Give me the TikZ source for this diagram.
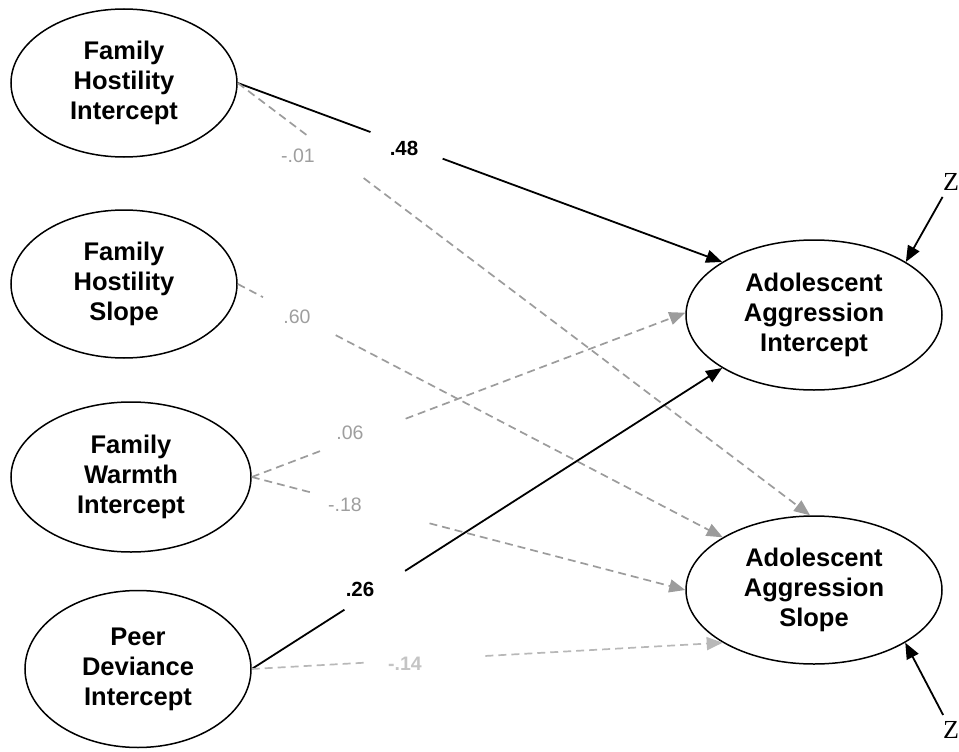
\documentclass[tikz,border=0pt]{standalone}
\usepackage{fontspec}
\setmainfont{Liberation Sans}
\newfontfamily\zfont{Liberation Serif}
\usetikzlibrary{arrows.meta,shapes.geometric,calc}
\definecolor{dgray}{HTML}{9C9C9C}
\definecolor{lgray}{HTML}{B8B8B8}
\definecolor{tgray}{HTML}{9E9E9E}
\definecolor{tlgray}{HTML}{C4C4C4}
\begin{document}
\begin{tikzpicture}[x=1pt,y=-1pt,
  lat/.style={ellipse,draw=black,line width=1.5pt,inner sep=0pt,align=center,
    font=\fontsize{25.5}{30}\selectfont\bfseries},
  tipk/.style={-{Triangle[length=16pt,width=13pt]}},
  solidarr/.style={draw=black,line width=1.8pt,tipk},
  dasharr/.style={draw=dgray,line width=1.7pt,dash pattern=on 8pt off 5pt,
    -{Triangle[length=16pt,width=13pt,color=dgray]}},
  ldasharr/.style={draw=lgray,line width=1.7pt,dash pattern=on 8pt off 5pt,
    -{Triangle[length=16pt,width=13pt,color=lgray]}},
  blbl/.style={font=\fontsize{20.5}{24}\selectfont\bfseries,text=black,inner sep=1pt},
  glbl/.style={font=\fontsize{19.5}{23}\selectfont,text=tgray,inner sep=1pt},
  lglbl/.style={font=\fontsize{19.5}{23}\selectfont\bfseries,text=tlgray,inner sep=1pt},
  zlbl/.style={font=\zfont\fontsize{26}{30}\selectfont,inner sep=1pt},
  zarr/.style={draw=black,line width=1.8pt,tipk,shorten <=6pt}]
\useasboundingbox (0,0) rectangle (959,752);

% latent variables
\node[lat,minimum width=226pt,minimum height=148pt] (fhi) at (124,83) {Family\\Hostility\\Intercept};
\node[lat,minimum width=226pt,minimum height=148pt] (fhs) at (124,284) {Family\\Hostility\\Slope};
\node[lat,minimum width=240pt,minimum height=150pt] (fwi) at (131,477) {Family\\Warmth\\Intercept};
\node[lat,minimum width=226pt,minimum height=157pt] (pdi) at (138,669) {Peer\\Deviance\\Intercept};
\node[lat,minimum width=256pt,minimum height=150pt] (aai) at (814,315) {Adolescent\\Aggression\\Intercept};
\node[lat,minimum width=256pt,minimum height=148pt] (aas) at (814,590) {Adolescent\\Aggression\\Slope};

% disturbances
\node[zlbl] (zi) at (951,182) {Z};
\node[zlbl] (zs) at (951,730) {Z};

% paths (with gaps where the coefficient boxes sit)
\draw[solidarr] (fhi.east) -- ($(fhi.east)!0.274!(aai.150)$) ($(fhi.east)!0.423!(aai.150)$) -- (aai.150);
\draw[dasharr] (fhi.east) -- ($(fhi.east)!0.122!(aas.93)$) ($(fhi.east)!0.220!(aas.93)$) -- (aas.93);
\draw[dasharr] (fhs.east) -- ($(fhs.east)!0.052!(aas.150)$) ($(fhs.east)!0.202!(aas.150)$) -- (aas.150);
\draw[dasharr] (fwi.east) -- ($(fwi.east)!0.159!(aai.179)$) ($(fwi.east)!0.355!(aai.179)$) -- (aai.179);
\draw[dasharr] (fwi.east) -- ($(fwi.east)!0.140!(aas.west)$) ($(fwi.east)!0.410!(aas.west)$) -- (aas.west);
\draw[solidarr] (pdi.east) -- ($(pdi.east)!0.197!(aai.210)$) ($(pdi.east)!0.326!(aai.210)$) -- (aai.210);
\draw[ldasharr] (pdi.east) -- ($(pdi.east)!0.248!(aas.210)$) ($(pdi.east)!0.496!(aas.210)$) -- (aas.210);

\draw[zarr] (zi) -- (aai.30);
\draw[zarr] (zs) -- (aas.330);

% coefficients
\node[blbl] (c1) at (404,148) {.48};
\node[glbl] (c2) at (298,155.5) {-.01};
\node[glbl] (c3) at (297,316.5) {.60};
\node[glbl] (c4) at (350,433) {.06};
\node[glbl] (c5) at (345,505) {-.18};
\node[blbl] (c6) at (360,589) {.26};
\node[lglbl] (c7) at (405,663.5) {-.14};
\end{tikzpicture}
\end{document}
